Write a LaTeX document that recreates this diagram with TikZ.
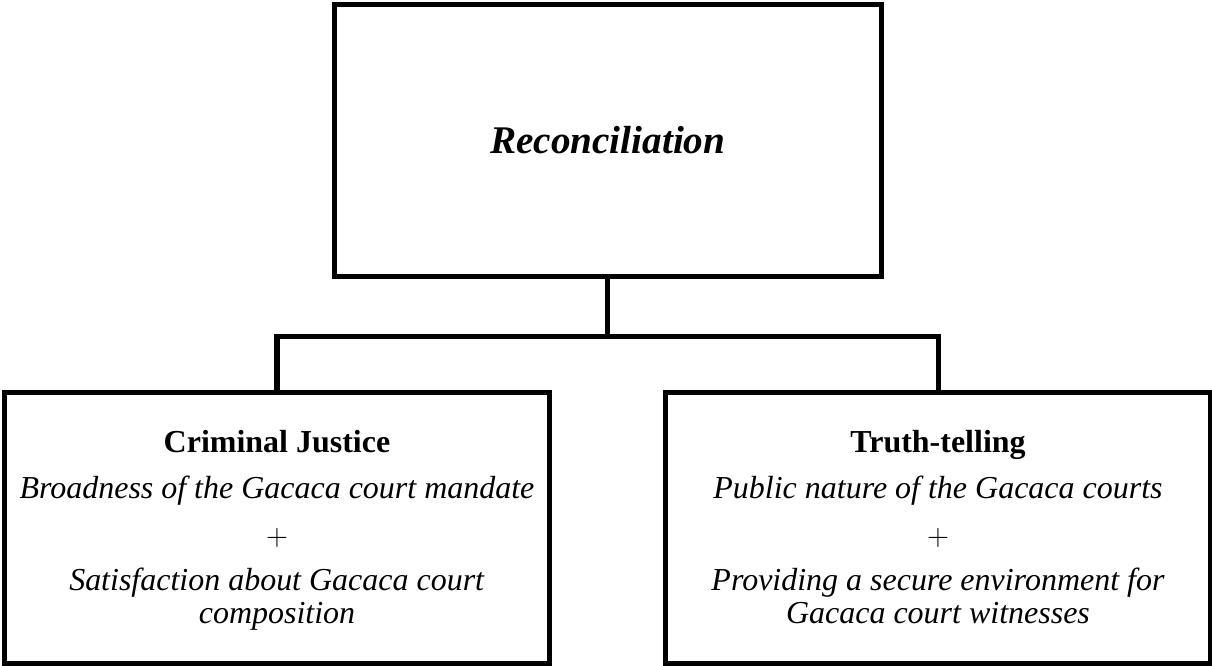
\documentclass[tikz,border=0pt]{standalone}
\usepackage{fontspec}
\setmainfont{Liberation Serif}
\usetikzlibrary{positioning, calc}

\begin{document}
\begin{tikzpicture}[
  gbox/.style={draw=black, fill=white, line width=2.85pt,
    minimum width=#1, inner sep=6pt, align=center,
    font=\fontsize{18.2}{18}\selectfont},
  gbox/.default=10.9cm,
  link/.style={draw=black, line width=2.85pt}
]
  \useasboundingbox (0,0) rectangle (24.24,13.32);

  \node[gbox=10.93cm, minimum height=5.44cm,
    font=\fontsize{22.3}{24}\selectfont\bfseries\itshape] (rec) at (12.155,10.51)
    {Reconciliation};

  \node[gbox, minimum height=5.42cm] (cj) at (5.54,2.76) {%
    \rule{0pt}{17pt}\textbf{Criminal Justice}\\[8pt]
    \textit{Broadness of the Gacaca court mandate}\\[8.5pt]
    $+$\\[8pt]
    \textit{Satisfaction about Gacaca court}\\[0.5pt]
    \textit{composition}\strut
  };

  \node[gbox, minimum height=5.42cm] (tt) at (18.76,2.76) {%
    \rule{0pt}{17pt}\textbf{Truth-telling}\\[8pt]
    \textit{Public nature of the Gacaca courts}\\[8.5pt]
    $+$\\[8pt]
    \textit{Providing a secure environment for}\\[0.5pt]
    \textit{Gacaca court witnesses}\strut
  };

  % tree connectors
  \coordinate (bus) at ($(rec.south)-(0,1.15)$);
  \draw[link] (rec.south) -- (bus);
  \draw[link] (cj.north) |- (bus) -| (tt.north);

\end{tikzpicture}
\end{document}
